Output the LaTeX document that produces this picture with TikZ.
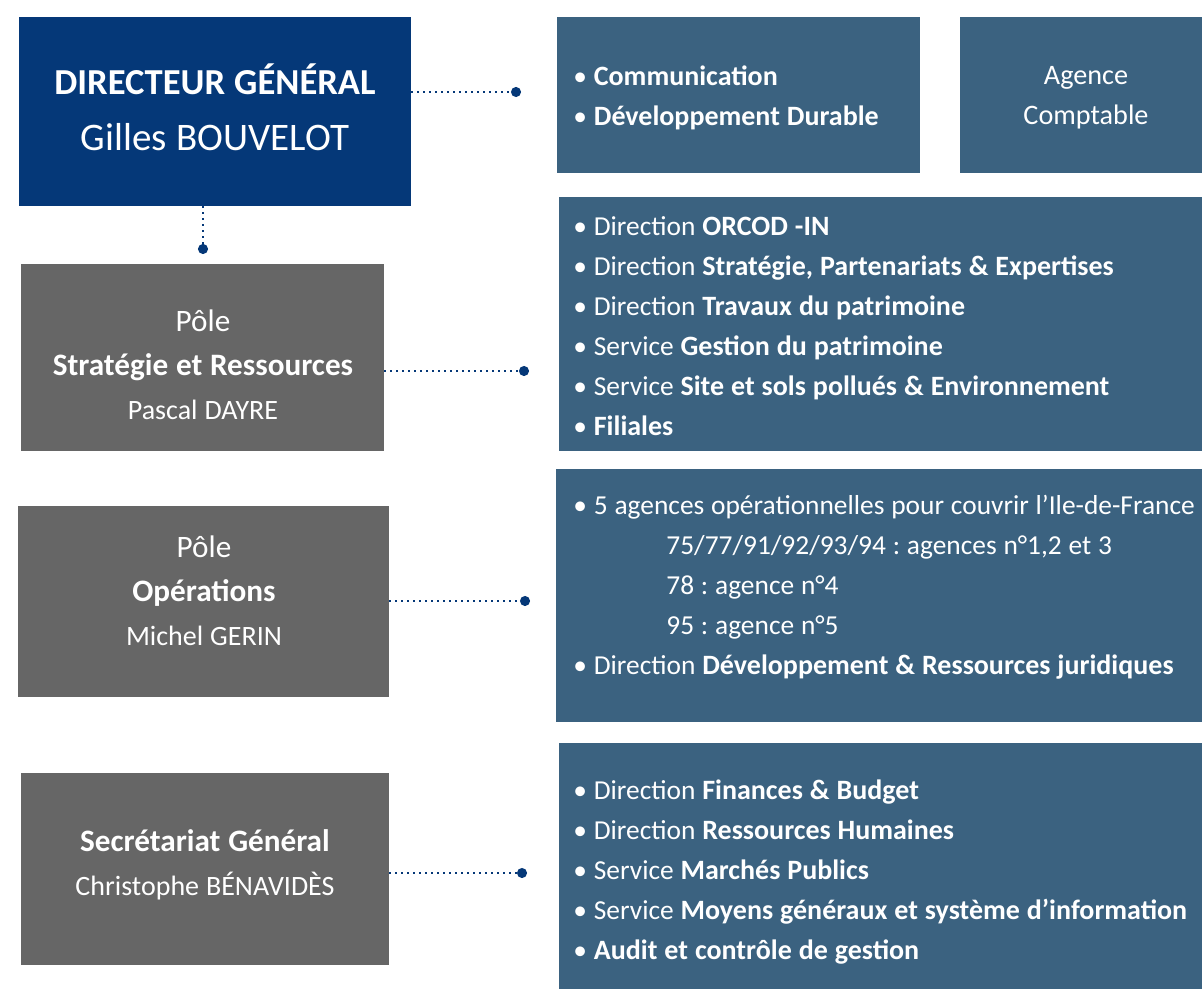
\documentclass[tikz,border=0pt]{standalone}
\usepackage{fontspec}
\setmainfont{Carlito}[WordSpace=1.1]
\usetikzlibrary{arrows.meta}

\definecolor{dgblue}{RGB}{5,56,120}
\definecolor{polegray}{RGB}{102,102,102}
\definecolor{slate}{RGB}{59,98,128}

% bold part of a bullet line, names under the poles
\newcommand{\hl}[1]{{\fontsize{14}{20}\selectfont\bfseries #1}}
\newcommand{\who}[1]{{\fontsize{14}{22}\selectfont #1}}

\begin{document}
\frenchspacing
\begin{tikzpicture}[x=0.5pt,y=-0.5pt,
  box/.style={inner sep=0pt,minimum width=#1},
  words/.style={inner sep=0pt,text=white,align=center},
  pole/.style={words,font=\fontsize{15.6}{22}\selectfont},
  list/.style={words,align=left,anchor=west,font=\fontsize{13.7}{20}\selectfont},
  link/.style={dgblue,line width=0.8pt,dash pattern=on 0.8pt off 2.2pt,-{Circle[length=5pt]}}]
\useasboundingbox (0,0) rectangle (1202,989);

% boxes
\node[box=196pt,minimum height=94.5pt,fill=dgblue] (dg) at (215,111.5) {};
\node[box=181.5pt,minimum height=78pt,fill=slate] (comm) at (738.5,95) {};
\node[box=121pt,minimum height=78pt,fill=slate] (ac) at (1081,95) {};
\node[box=181.5pt,minimum height=93.5pt,fill=polegray] (sr) at (202.5,357.5) {};
\node[box=185.5pt,minimum height=95.5pt,fill=polegray] (op) at (203.5,601.5) {};
\node[box=184pt,minimum height=96pt,fill=polegray] (sg) at (205,869) {};
\node[box=321.5pt,minimum height=127pt,fill=slate] (srd) at (880.5,324) {};
\node[box=323pt,minimum height=126.5pt,fill=slate] (opd) at (879,595.5) {};
\node[box=321.5pt,minimum height=123pt,fill=slate] (sgd) at (880.5,866) {};

% texts
\node[words,font=\fontsize{19.5}{28}\selectfont] (dgtext) at (215,107)
  {{\fontsize{18.3}{28}\selectfont\bfseries DIRECTEUR GÉNÉRAL}\\ Gilles BOUVELOT};
\node[list] (commtext) at (573,98)
  {• \hl{Communication}\\ • \hl{Développement Durable}};
\node[words,font=\fontsize{14.1}{20}\selectfont] (actext) at (1086,98)
  {Agence\\ Comptable};

\node[pole] (srtext) at (203,365)
  {Pôle\\ \textbf{Stratégie et Ressources}\\ \who{Pascal DAYRE}};
\node[pole] (optext) at (204,591)
  {Pôle\\ \textbf{Opérations}\\ \who{Michel GERIN}};
\node[pole] (sgtext) at (205,864.5)
  {\textbf{Secrétariat Général}\\ \who{Christophe BÉNAVIDÈS}};

\node[list] (srdtext) at (573,326)
  {• Direction \hl{ORCOD -IN}\\
   • Direction \hl{Stratégie, Partenariats \& Expertises}\\
   • Direction \hl{Travaux du patrimoine}\\
   • Service \hl{Gestion du patrimoine}\\
   • Service \hl{Site et sols pollués \& Environnement}\\
   • \hl{Filiales}};
\node[list] (opdtext) at (573,587)
  {• 5 agences opérationnelles pour couvrir l’Ile-de-France\\
   \hspace*{46.5pt}75/77/91/92/93/94 : agences n°1,2 et 3\\
   \hspace*{46.5pt}78 : agence n°4\\
   \hspace*{46.5pt}95 : agence n°5\\
   • Direction \hl{Développement \& Ressources juridiques}};
\node[list] (sgdtext) at (573,872)
  {• Direction \hl{Finances \& Budget}\\
   • Direction \hl{Ressources Humaines}\\
   • Service \hl{Marchés Publics}\\
   • Service \hl{Moyens généraux et système d’information}\\
   • \hl{Audit et contrôle de gestion}};

% links
\coordinate (dgend) at (521,92);
\coordinate (dgdown) at (203,254);
\coordinate (srend) at (529,371);
\coordinate (opend) at (530,601);
\coordinate (sgend) at (527,873);
\draw[link] (dg.east |- dgend) -- (dgend);
\draw[link] (dg.south -| dgdown) -- (dgdown);
\draw[link] (sr.east |- srend) -- (srend);
\draw[link] (op.east |- opend) -- (opend);
\draw[link] (sg.east |- sgend) -- (sgend);
\end{tikzpicture}
\end{document}
